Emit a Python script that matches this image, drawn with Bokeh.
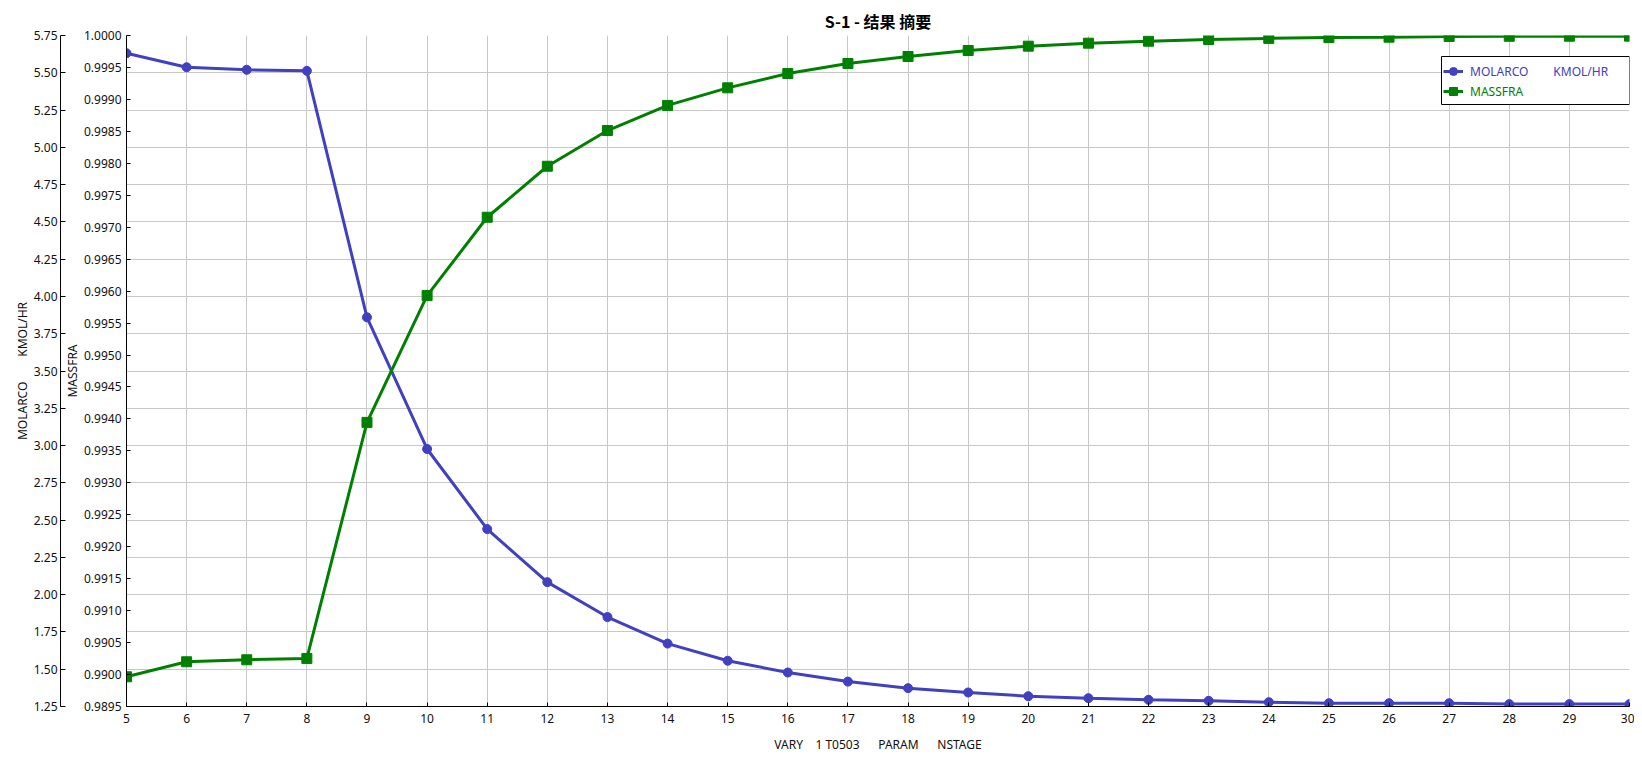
from bokeh.plotting import figure
from bokeh.models import (Range1d, LinearAxis, Grid, FixedTicker, Legend, LegendItem,
                          BoxAnnotation, PrintfTickFormatter)
from bokeh.embed import file_html
from bokeh.resources import INLINE

# ---------------- data ----------------
stages = [5, 6, 7, 8, 9, 10, 11, 12, 13, 14, 15, 16, 17, 18, 19, 20,
          21, 22, 23, 24, 25, 26, 27, 28, 29, 30]
molarco = [5.631, 5.537, 5.520, 5.513, 3.860, 2.977, 2.440, 2.084, 1.850, 1.672,
           1.557, 1.478, 1.417, 1.373, 1.344, 1.319, 1.306, 1.295, 1.288, 1.279,
           1.272, 1.272, 1.272, 1.266, 1.266, 1.266]
massfra = [0.989965, 0.990200, 0.990231, 0.990252, 0.993946, 0.995930, 0.997156,
           0.997954, 0.998513, 0.998906, 0.999181, 0.999405, 0.999562, 0.999671,
           0.999765, 0.999833, 0.999880, 0.999911, 0.999937, 0.999955, 0.999968,
           0.999974, 0.999985, 0.999988, 0.999989, 0.999990]
x_ticks = stages
molarco_ticks = [1.25, 1.50, 1.75, 2.00, 2.25, 2.50, 2.75, 3.00, 3.25, 3.50, 3.75,
                 4.00, 4.25, 4.50, 4.75, 5.00, 5.25, 5.50, 5.75]
massfra_ticks = [0.9895, 0.9900, 0.9905, 0.9910, 0.9915, 0.9920, 0.9925, 0.9930,
                 0.9935, 0.9940, 0.9945, 0.9950, 0.9955, 0.9960, 0.9965, 0.9970,
                 0.9975, 0.9980, 0.9985, 0.9990, 0.9995, 1.0000]

title_text = "S-1 - 结果 摘要"
NB = "\u00a0"
molarco_label = "MOLARCO" + NB * 8 + "KMOL/HR"
massfra_label = "MASSFRA"
x_label = "VARY" + NB * 4 + "1 T0503" + NB * 6 + "PARAM" + NB * 6 + "NSTAGE"

BLUE = "#4040C0"
GREEN = "#008000"
GRID = "#C8C8C8"
FONT = "Noto Sans"
TXT = "#111111"

# ---------------- figure ----------------
p = figure(frame_width=1503, frame_height=671,
           x_range=Range1d(5, 30), y_range=Range1d(1.25, 5.75),
           y_axis_type=None, output_backend="svg", toolbar_location=None,
           min_border_left=126, min_border_right=5, min_border_top=35,
           min_border_bottom=47)
p.outline_line_color = None
p.background_fill_color = "white"
p.border_fill_color = "white"

p.title.text = title_text
p.title.align = "center"
p.title.text_font = "Noto Sans CJK SC"
p.title.text_font_style = "bold"
p.title.text_font_size = "16px"
p.title.text_color = "#000000"
p.title.standoff = 5

# x axis
xa = p.xaxis[0]
xa.ticker = FixedTicker(ticks=x_ticks)
xa.major_tick_in = 4
xa.major_tick_out = 0
xa.minor_tick_in = 0
xa.minor_tick_out = 0
xa.major_label_standoff = 7
xa.major_label_text_font = FONT
xa.major_label_text_font_size = "12px"
xa.major_label_text_color = TXT
xa.axis_label = x_label
xa.axis_label_text_font = FONT
xa.axis_label_text_font_size = "12px"
xa.axis_label_text_font_style = "normal"
xa.axis_label_text_color = TXT
xa.axis_label_standoff = 10
xa.axis_line_color = "black"
xa.major_tick_line_color = "black"

p.xgrid.ticker = FixedTicker(ticks=x_ticks)
p.xgrid.grid_line_color = GRID

# y axes
p.extra_y_ranges = {"mf": Range1d(0.9895, 1.0)}

ax_mf = LinearAxis(y_range_name="mf", ticker=FixedTicker(ticks=massfra_ticks),
                   formatter=PrintfTickFormatter(format="%.4f"), axis_label=massfra_label)
ax_mol = LinearAxis(ticker=FixedTicker(ticks=molarco_ticks),
                    formatter=PrintfTickFormatter(format="%.2f"), axis_label=molarco_label)
for ax, tin, st, ast in ((ax_mf, 4, 5, 0), (ax_mol, 5, 3, 0)):
    ax.major_tick_in = tin
    ax.major_tick_out = 0
    ax.minor_tick_in = 0
    ax.minor_tick_out = 0
    ax.major_label_standoff = st
    ax.major_label_text_font = FONT
    ax.major_label_text_font_size = "12px"
    ax.major_label_text_color = TXT
    ax.axis_label_text_font = FONT
    ax.axis_label_text_font_size = "12px"
    ax.axis_label_text_font_style = "normal"
    ax.axis_label_text_color = TXT
    ax.axis_label_standoff = ast
    ax.axis_line_color = "black"
    ax.major_tick_line_color = "black"

# empty gap between the two left axes
gap = LinearAxis(ticker=FixedTicker(ticks=[]), axis_label=None)
gap.axis_line_alpha = 0
gap.major_tick_in = 0
gap.major_tick_out = 4
gap.major_tick_line_alpha = 0
gap.minor_tick_in = 0
gap.minor_tick_out = 0
gap.minor_tick_line_alpha = 0
gap.major_label_standoff = 0

p.add_layout(ax_mf, "left")
p.add_layout(gap, "left")
p.add_layout(ax_mol, "left")

p.add_layout(Grid(dimension=1, ticker=FixedTicker(ticks=molarco_ticks),
                  grid_line_color=GRID), "center")

# ---------------- series ----------------
l1 = p.line(stages, molarco, line_color=BLUE, line_width=3)
s1 = p.scatter(stages, molarco, marker="circle", size=9, fill_color=BLUE, line_color=BLUE)
l2 = p.line(stages, massfra, line_color=GREEN, line_width=3, y_range_name="mf")
s2 = p.scatter(stages, massfra, marker="square", size=10, fill_color=GREEN,
               line_color=GREEN, y_range_name="mf")

# ---------------- legend ----------------
box = BoxAnnotation(left=1315, right=1503, top=650, bottom=602,
                    left_units="screen", right_units="screen",
                    top_units="screen", bottom_units="screen",
                    fill_color="white", fill_alpha=1.0,
                    line_color="black", line_width=1, line_alpha=1.0)
p.add_layout(box)

def make_legend(label, rends, color, loc):
    lg = Legend(items=[LegendItem(label=label, renderers=rends)], location=loc)
    lg.padding = 0
    lg.margin = 0
    lg.spacing = 0
    lg.glyph_width = 20
    lg.glyph_height = 20
    lg.label_height = 20
    lg.label_standoff = 7
    lg.border_line_alpha = 0
    lg.background_fill_alpha = 0
    lg.label_text_font = FONT
    lg.label_text_font_size = "12px"
    lg.label_text_color = color
    return lg

p.add_layout(make_legend(molarco_label, [l1, s1], BLUE, (1317, 625)))
p.add_layout(make_legend(massfra_label, [l2, s2], GREEN, (1317, 605)))

open("out.html", "w").write(file_html(p, INLINE))
